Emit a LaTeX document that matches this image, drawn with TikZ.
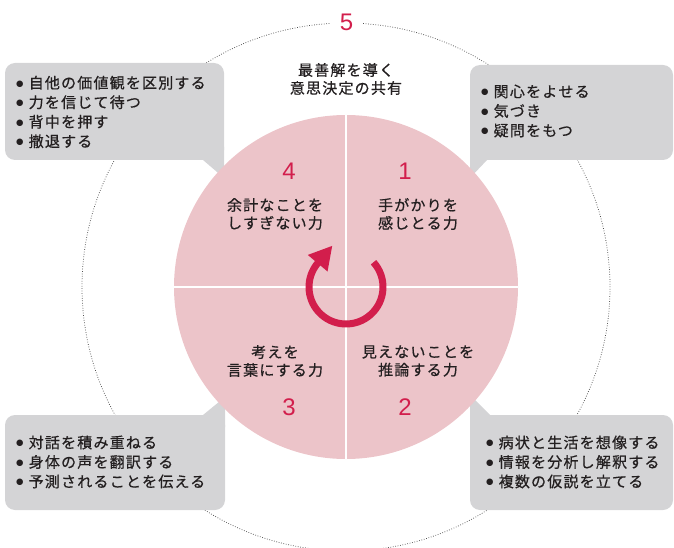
\documentclass[tikz,border=0pt]{standalone}
\usepackage{fontspec}
\setmainfont{Liberation Sans}
\newfontfamily\jpfont[LetterSpace=8,FakeBold=0.6]{Noto Sans CJK JP}
\newfontfamily\numfont{Liberation Sans}
\newfontfamily\symfont{DejaVu Sans}
\usetikzlibrary{arrows.meta}
\definecolor{pinkfill}{RGB}{236,196,201}
\definecolor{boxgray}{RGB}{212,212,214}
\definecolor{accent}{RGB}{210,30,76}
\definecolor{ink}{RGB}{35,31,32}
\definecolor{dotgray}{RGB}{80,80,80}
\newcommand\bulmark{\makebox[12.5pt][l]{\raisebox{2.4pt}{\symfont\fontsize{8.5}{8.5}\selectfont ●}}}
\begin{document}
\begin{tikzpicture}[x=1pt,y=1pt,
  jptext/.style={font=\jpfont\fontsize{15}{18}\selectfont, text=ink, inner sep=0pt},
  listtext/.style={font=\jpfont\fontsize{15}{19.5}\selectfont, text=ink, inner sep=0pt, align=left, anchor=west},
  num/.style={font=\numfont\fontsize{24}{24}\selectfont, text=accent, inner sep=0pt},
  bubble/.style={fill=boxgray, rounded corners=10pt},
  tailpart/.style={fill=boxgray},
  outerring/.style={dotgray, line width=0.75pt, dash pattern=on 0.75pt off 1.7pt},
  divider/.style={white, line width=2pt},
  cyclearrow/.style={accent, line width=7pt, -{Triangle[length=23pt,width=24pt]}}
]
\useasboundingbox (0,0) rectangle (674,547);
\coordinate (C) at (346,260);
% outer dotted ring with gap for 5
\draw[outerring] ([shift={(93.6:264)}]C) arc[start angle=93.6, end angle=446.4, radius=264];
% bubbles
\fill[bubble] (5,387) rectangle (224,484);
\fill[tailpart] (203,387) -- (224,369) -- (224,400) -- (203,400) -- cycle;
\fill[bubble] (470,387) rectangle (673,482);
\fill[tailpart] (487,387) -- (470,369) -- (470,400) -- (487,400) -- cycle;
\fill[bubble] (5,37) rectangle (225,132);
\fill[tailpart] (203,132) -- (225,150) -- (225,120) -- (203,120) -- cycle;
\fill[bubble] (470,37) rectangle (673,132);
\fill[tailpart] (490,132) -- (470,152) -- (470,120) -- (490,120) -- cycle;
% pink disc
\fill[pinkfill] (C) circle[radius=172];
\coordinate (ctop) at (346,432);
\coordinate (cbot) at (346,88);
\coordinate (cleft) at (174,260);
\coordinate (cright) at (518,260);
\draw[divider] (ctop) -- (cbot);
\draw[divider] (cleft) -- (cright);
% cycle arrow
\draw[cyclearrow] ([shift={(42:37)}]C) arc[start angle=42, end angle=-220, radius=37] -- ++(50:23);
% numbers
\node[num] (n5) at (346.5,524.5) {5};
\node[num] (n4) at (289,375.5) {4};
\node[num] (n1) at (405,375.5) {1};
\node[num] (n3) at (289,139.5) {3};
\node[num] (n2) at (405,139.5) {2};
% centre texts
\node[jptext, align=center] (top) at (346,468) {最善解を導く\\意思決定の共有};
\node[jptext, align=center] (q4) at (275,333) {余計なことを\\しすぎない力};
\node[jptext, align=center] (q1) at (418,333) {手がかりを\\感じとる力};
\node[jptext, align=center] (q3) at (275,186) {考えを\\言葉にする力};
\node[jptext, align=center] (q2) at (418,186) {見えないことを\\推論する力};
% lists
\node[listtext] (ltl) at (16,435) {\bulmark 自他の価値観を区別する\\\bulmark 力を信じて待つ\\\bulmark 背中を押す\\\bulmark 撤退する};
\node[listtext] (ltr) at (481,436) {\bulmark 関心をよせる\\\bulmark 気づき\\\bulmark 疑問をもつ};
\node[listtext] (lbl) at (16,85) {\bulmark 対話を積み重ねる\\\bulmark 身体の声を翻訳する\\\bulmark 予測されることを伝える};
\node[listtext] (lbr) at (486,85) {\bulmark 病状と生活を想像する\\\bulmark 情報を分析し解釈する\\\bulmark 複数の仮説を立てる};
\end{tikzpicture}
\end{document}
